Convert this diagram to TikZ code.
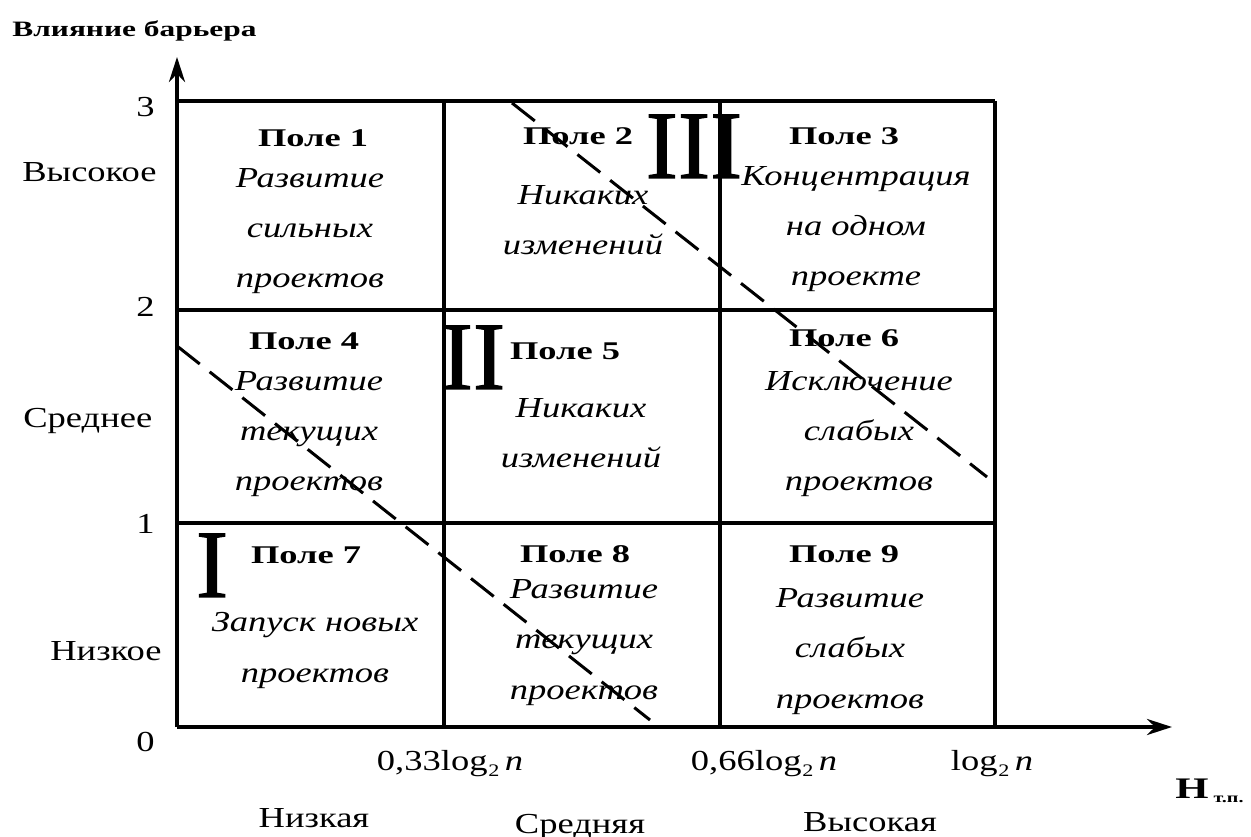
\documentclass[tikz,border=0pt]{standalone}
\usepackage{fontspec}
\setmainfont{Liberation Serif}[FakeStretch=1.26,BoldFeatures={FakeStretch=1.43}]
\newfontfamily\romanfont{Liberation Serif}[FakeBold=1.2]
\usetikzlibrary{arrows.meta,positioning}
\newcommand{\logn}{log\kern0.5pt\raisebox{-0.5ex}{\fontsize{10}{10}\selectfont 2}\kern3pt\textit{n}}

\begin{document}
\begin{tikzpicture}[x=0.02cm,y=-0.02cm,
  font=\fontsize{16.5}{28.5}\selectfont,
  field/.style={font=\fontsize{14.5}{17}\selectfont\bfseries,anchor=base,inner sep=0pt},
  note/.style={font=\fontsize{16.5}{28.5}\selectfont\itshape,align=center,anchor=base,inner sep=0pt},
  zone/.style={font=\romanfont\fontsize{55}{60}\selectfont,anchor=base,inner sep=0pt},
  level/.style={anchor=base west,inner sep=0pt},
  tick/.style={anchor=base east,inner sep=0pt},
  scale label/.style={anchor=base,inner sep=0pt},
  border/.style={line width=0.8mm},
  axis/.style={line width=0.8mm,-{Stealth[length=5mm,width=3.2mm]}},
  split/.style={line width=0.6mm,dash pattern=on 0.58cm off 0.253cm}
]
\useasboundingbox (0,0) rectangle (1251,837);

% axes and grid
\coordinate (O) at (177,727);
\coordinate (top) at (177,57);
\coordinate (right) at (1172,727);
\draw[border] (177,101) -- (995,101);
\draw[border] (177,310) -- (995,310);
\draw[border] (177,523) -- (995,523);
\foreach \x in {444,720,995}
  \draw[border] (\x,101) -- (\x,727);
\draw[axis] (O) -- (top);
\draw[axis] (O) -- (right);

% zone borders
\draw[split] (177,346) -- (650,720);
\draw[split] (512,103) -- (987,477);

% fields (notes sit on the baseline of their last line)
\node[field] (t1) at (313,147) {Поле 1};
\node[note]  (n1) at (310,288) {Развитие\\сильных\\проектов};
\node[field] (t2) at (578,145) {Поле 2};
\node[note]  (n2) at (583,255) {Никаких\\изменений};
\node[field] (t3) at (844,145) {Поле 3};
\node[note]  (n3) at (856,286) {Концентрация\\на одном\\проекте};
\node[field] (t4) at (304,350) {Поле 4};
\node[note]  (n4) at (309,491) {Развитие\\текущих\\проектов};
\node[field] (t5) at (565,360) {Поле 5};
\node[note]  (n5) at (581,468) {Никаких\\изменений};
\node[field] (t6) at (844,347) {Поле 6};
\node[note]  (n6) at (859,491) {Исключение\\слабых\\проектов};
\node[field] (t7) at (306,563) {Поле 7};
\node[note]  (n7) at (315,682) {Запуск новых\\проектов};
\node[field] (t8) at (575,562) {Поле 8};
\node[note]  (n8) at (584,699) {Развитие\\текущих\\проектов};
\node[field] (t9) at (844,562) {Поле 9};
\node[note]  (n9) at (850,708) {Развитие\\слабых\\проектов};

% zones
\node[zone] (z3) at (694,178) {III};
\node[zone] (z2) at (473,389) {II};
\node[zone] (z1) at (212,597) {I};

% vertical scale
\node[anchor=base west,inner sep=0pt,font=\fontsize{12.5}{15}\selectfont\bfseries] (ylab) at (12,37) {Влияние барьера};
\node[tick]  (y3) at (155,117) {3};
\node[tick]  (y2) at (155,317) {2};
\node[tick]  (y1) at (155,534) {1};
\node[tick]  (y0) at (155,751) {0};
\node[level] (hi) at (22,182) {Высокое};
\node[level] (md) at (23,428) {Среднее};
\node[level] (lo) at (50,660) {Низкое};

% horizontal scale
\node[scale label] (x1) at (450,770) {0,33\logn};
\node[scale label] (x2) at (764,770) {0,66\logn};
\node[scale label] (x3) at (992,770) {\logn};
\node[anchor=base west,inner sep=0pt] (xlab) at (1175,798)
  {\fontsize{17}{20}\selectfont\bfseries Н\,\raisebox{-0.3ex}{\fontsize{8}{8}\selectfont т.п.}};
\node[scale label] (c1) at (314,827) {Низкая};
\node[scale label] (c2) at (580,833) {Средняя};
\node[scale label] (c3) at (870,831) {Высокая};
\end{tikzpicture}
\end{document}
